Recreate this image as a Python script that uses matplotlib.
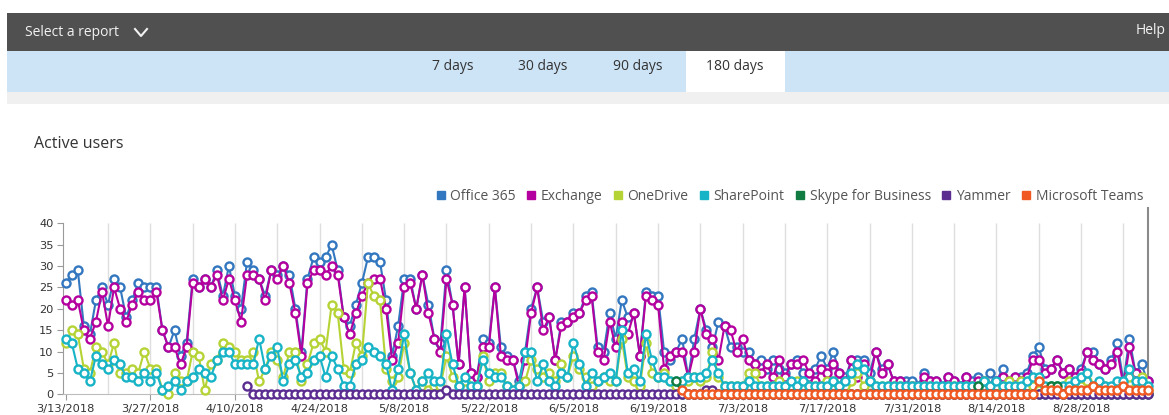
import numpy as np
import pandas as pd
import matplotlib
matplotlib.use('Agg')
import matplotlib.pyplot as plt
from matplotlib.lines import Line2D
from matplotlib.patches import Rectangle

W, H = 1169, 415

# daily values, 3/13/2018 .. 9/8/2018
dates = pd.date_range('2018-03-13', periods=180, freq='D')

office365 = [26, 28, 29, 16, 14, 22, 25, 21, 27, 25,
             18, 22, 26, 25, 25, 25, 15, 11, 15, 9,
             12, 27, 25, 27, 25, 29, 23, 30, 23, 20,
             31, 29, 27, 23, 29, 28, 30, 28, 20, 10,
             27, 32, 31, 32, 35, 29, 18, 16, 21, 26,
             32, 32, 31, 22, 9, 16, 27, 27, 20, 28,
             21, 13, 12, 29, 21, 7, 25, 5, 4, 13,
             12, 25, 11, 9, 8, 3, 10, 20, 25, 17,
             18, 8, 17, 17, 19, 19, 23, 24, 11, 10,
             19, 13, 22, 18, 19, 9, 24, 23, 23, 10,
             8, 10, 13, 4, 13, 20, 15, 11, 17, 16,
             11, 11, 10, 10, 7, 8, 6, 8, 6, 5,
             7, 8, 5, 4, 6, 9, 6, 10, 5, 4,
             8, 8, 8, 5, 10, 6, 7, 3, 3, 3,
             3, 2, 5, 3, 3, 2, 4, 3, 2, 4,
             3, 4, 3, 5, 3, 6, 3, 4, 4, 5,
             9, 11, 6, 6, 8, 5, 6, 4, 6, 10,
             10, 7, 6, 8, 12, 3, 13, 5, 7, 3]

exchange = [22, 21, 22, 15, 13, 17, 24, 16, 25, 20,
            17, 21, 24, 22, 22, 24, 15, 11, 11, 7,
            11, 26, 25, 27, 25, 28, 22, 27, 22, 17,
            28, 28, 27, 22, 29, 27, 30, 26, 19, 9,
            26, 29, 29, 28, 30, 28, 18, 14, 19, 23,
            26, 27, 27, 20, 8, 12, 25, 26, 20, 28,
            19, 13, 10, 27, 21, 7, 25, 5, 4, 11,
            11, 25, 9, 8, 8, 2, 8, 19, 25, 15,
            18, 8, 16, 17, 18, 19, 22, 23, 10, 8,
            17, 11, 17, 14, 19, 9, 23, 22, 21, 6,
            9, 10, 10, 4, 10, 20, 14, 13, 8, 16,
            15, 10, 13, 8, 7, 5, 7, 4, 8, 4,
            7, 7, 8, 5, 3, 6, 5, 7, 5, 3,
            8, 4, 7, 3, 10, 5, 7, 3, 3, 2,
            2, 2, 4, 3, 3, 1, 4, 3, 2, 4,
            2, 3, 3, 2, 3, 4, 3, 4, 3, 4,
            8, 8, 5, 6, 8, 5, 6, 4, 5, 10,
            8, 7, 6, 7, 10, 2, 11, 5, 3, 3]

onedrive = [12, 15, 14, 6, 5, 11, 10, 7, 12, 5,
            5, 6, 5, 10, 6, 6, 1, 0, 5, 3,
            3, 10, 9, 1, 7, 8, 12, 11, 10, 8,
            8, 10, 3, 6, 10, 8, 4, 10, 10, 3,
            7, 12, 13, 10, 21, 19, 6, 5, 12, 9,
            26, 23, 22, 6, 3, 4, 12, 5, 1, 3,
            1, 2, 2, 9, 4, 2, 3, 1, 2, 9,
            3, 5, 5, 2, 1, 2, 3, 8, 6, 4,
            5, 3, 7, 4, 9, 6, 4, 2, 3, 4,
            3, 3, 13, 4, 3, 2, 12, 5, 4, 5,
            3, 2, 3, 3, 4, 3, 4, 10, 4, 2,
            2, 2, 2, 5, 5, 2, 2, 2, 3, 2,
            2, 3, 2, 2, 2, 2, 3, 3, 2, 2,
            3, 5, 2, 3, 2, 2, 2, 2, 2, 1,
            2, 1, 2, 2, 1, 1, 2, 2, 1, 2,
            2, 1, 3, 2, 2, 2, 3, 2, 3, 2,
            2, 1, 1, 2, 2, 2, 3, 2, 2, 3,
            2, 2, 2, 1, 2, 2, 4, 2, 4, 1]

sharepoint = [13, 12, 6, 5, 3, 9, 7, 6, 8, 7,
              4, 4, 3, 5, 3, 5, 1, 2, 3, 1,
              3, 4, 6, 5, 4, 8, 10, 10, 7, 7,
              7, 7, 13, 6, 9, 11, 3, 7, 8, 4,
              5, 8, 9, 4, 9, 6, 2, 2, 7, 8,
              11, 10, 9, 7, 1, 6, 14, 5, 1, 3,
              5, 3, 3, 14, 7, 2, 4, 2, 2, 8,
              5, 4, 4, 2, 1, 2, 10, 10, 3, 7,
              3, 2, 5, 4, 12, 7, 2, 5, 3, 4,
              5, 3, 15, 5, 6, 3, 14, 8, 4, 4,
              3, 3, 3, 4, 4, 4, 5, 8, 5, 2,
              2, 2, 2, 3, 2, 2, 2, 2, 2, 2,
              3, 2, 3, 2, 2, 2, 2, 3, 2, 3,
              5, 7, 6, 3, 2, 2, 2, 2, 2, 2,
              2, 2, 2, 2, 2, 2, 2, 2, 2, 2,
              2, 2, 3, 2, 3, 2, 2, 2, 2, 3,
              4, 4, 2, 2, 2, 2, 2, 3, 4, 5,
              2, 3, 2, 2, 3, 3, 6, 3, 3, 2]

# these services only report from a later date on
skype = ([np.nan] * 101 + [3] + [0] * 49 + [2] + [0] * 11 + [2, 2]
         + [0] * 15)
yammer = ([np.nan] * 30 + [2] + [0] * 32 + [1] + [0] * 42 + [1, 1]
          + [0] * 72)
teams = ([np.nan] * 102 + [1] + [0] * 58
         + [3, 1, 1, 1, 0, 1, 1, 1, 1, 2, 1, 1, 1, 1, 2, 1, 1, 1, 1])

names = ['Office 365', 'Exchange', 'OneDrive', 'SharePoint',
         'Skype for Business', 'Yammer', 'Microsoft Teams']
colors = ['#3277bf', '#b4009e', '#b5d335', '#17b3c6',
          '#107c41', '#5c2d91', '#f05a22']
values = [office365, exchange, onedrive, sharepoint, skype, yammer, teams]


def fx(px):
    return px / W


def fy(py):
    return 1 - py / H


fig = plt.figure(figsize=(W / 100, H / 100), dpi=100)
fig.patch.set_facecolor('white')

# page header
def rect(x0, y0, x1, y1, col):
    fig.add_artist(Rectangle((fx(x0), fy(y1)), fx(x1) - fx(x0), fy(y0) - fy(y1),
                             transform=fig.transFigure, color=col, lw=0))

rect(7, 13, W, 51, '#505050')
rect(7, 51, W, 92, '#cde3f6')
rect(7, 92, W, 104, '#f0f0f0')
rect(686, 51, 785, 92, 'white')

ui = ['Open Sans', 'DejaVu Sans']
fig.text(fx(25), fy(32), 'Select a report', color='#f2f2f2', fontsize=10,
         va='center', family=ui)
fig.add_artist(Line2D([fx(135), fx(141), fx(147)], [fy(29), fy(36), fy(29)],
                      transform=fig.transFigure, color='#f2f2f2', lw=1.5))
fig.text(fx(1166), fy(31), 'Help', color='#f2f2f2', fontsize=10,
         va='center', ha='right', family=ui)
for label, cx in zip(['7 days', '30 days', '90 days', '180 days'],
                     [453, 543, 638, 735]):
    fig.text(fx(cx), fy(67), label, color='#333333', fontsize=10,
             va='center', ha='center', family=ui)
fig.text(fx(34), fy(144), 'Active users', color='#333333', fontsize=11.5,
         va='center', family=ui)

# chart
y0_px, top_px = 394.3, 207.9
ax = fig.add_axes([fx(63.3), fy(y0_px), fx(1147.6) - fx(63.3),
                   (y0_px - top_px) / H])
days = np.arange(len(dates))
ax.set_xlim(-0.4, 179)
ax.set_ylim(0, 43.6)

ax.vlines(np.arange(7, 179, 7), 0, 40, color='#dedede', lw=1, zorder=0)

for i, (name, vals, col) in enumerate(zip(names, values, colors)):
    ax.plot(days, vals, color=col, lw=1.5, marker='o', ms=5.8,
            mfc='white', mec=col, mew=1.7, clip_on=False, zorder=3 + i)

for side in ['top']:
    ax.spines[side].set_visible(False)
ax.spines['right'].set_color('#8a8a8a')
ax.spines['right'].set_linewidth(1.5)
ax.spines['left'].set_color('#9a9a9a')
ax.spines['left'].set_bounds(0, 40)
ax.spines['bottom'].set_color('#bdbdbd')

ax.set_yticks(range(0, 41, 5))
ax.set_xticks(days[::14])
ax.set_xticklabels([f'{d.month}/{d.day}/{d.year}' for d in dates[::14]])
ax.tick_params(axis='both', colors='#9a9a9a', labelcolor='#333333',
               labelsize=8.2, length=4)
ax.tick_params(axis='x', pad=3)
ax.tick_params(axis='y', pad=3)

handles = [Line2D([], [], marker='s', ls='', color=c, ms=6) for c in colors]
fig.legend(handles, names, loc='center right',
           bbox_to_anchor=(fx(1143), fy(196)), ncol=7, frameon=False,
           fontsize=10, handlelength=0.6, handletextpad=0.4,
           columnspacing=0.8, borderaxespad=0, borderpad=0,
           labelcolor='#555555', prop={'family': ui, 'size': 10})

fig.savefig('out.png', dpi=100)
